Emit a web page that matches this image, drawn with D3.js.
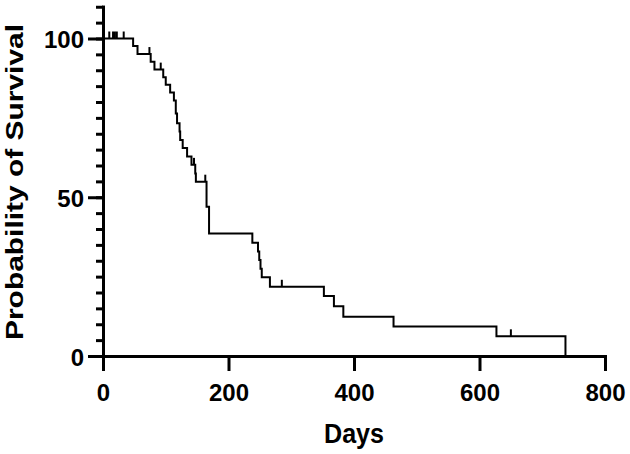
<!DOCTYPE html>
<html>
<head>
<meta charset="utf-8">
<script src="https://cdn.jsdelivr.net/npm/d3@7"></script>
<style>
  html, body { margin: 0; padding: 0; background: #fff; }
  svg { display: block; }
  text { font-family: "Liberation Sans", Arial, Helvetica, sans-serif; font-weight: bold; fill: #000; }
</style>
</head>
<body>
<svg id="chart" width="630" height="454"></svg>
<script>
// ---- Data ----
const eventDays     = [48, 55, 76, 82, 96, 100, 107, 113, 116, 118, 122, 123, 127, 134, 141, 147, 148, 165, 169, 238, 247, 249, 251, 253, 266, 352, 368, 383, 463, 627, 737];
const eventSurvival = [97.6, 95.1, 92.7, 90.2, 87.8, 85.4, 83.0, 80.5, 76.4, 73.3, 70.7, 68.0, 65.5, 62.8, 60.2, 57.5, 54.9, 47.0, 38.6, 35.7, 32.9, 30.2, 27.5, 24.8, 21.8, 18.9, 15.7, 12.4, 9.3, 6.2, 0];
const censorDays     = [10, 16, 19, 22, 33, 74, 92, 145, 163, 285, 650];
const censorSurvival = [100, 100, 100, 100, 100, 95.1, 90.2, 60.2, 54.9, 21.8, 6.2];
const xTicks = [0, 200, 400, 600, 800];
const yMajorTicks = [0, 50, 100];
const yMinorTicks = d3.range(0, 111, 5);
const xTitle = "Days";
const yTitle = "Probability of Survival";

const svg = d3.select("#chart");
const x = d3.scaleLinear().domain([0, 800]).range([103, 605]);
const y = d3.scaleLinear().domain([0, 110]).range([356, 356 - 110 * 3.175]);

// ---- Axes ----
const axisW = 3;
// y minor ticks
const yMinor = svg.append("g").attr("transform", `translate(${x(0)},0)`)
  .call(d3.axisLeft(y).tickValues(yMinorTicks).tickSize(7).tickSizeOuter(0).tickFormat(""));
// y major ticks + labels
const yMajor = svg.append("g").attr("transform", `translate(${x(0)},0)`)
  .call(d3.axisLeft(y).tickValues(yMajorTicks).tickSize(15).tickSizeOuter(0).tickPadding(4));
// x axis
const xAx = svg.append("g").attr("transform", `translate(0,${y(0)})`)
  .call(d3.axisBottom(x).tickValues(xTicks).tickSize(15).tickSizeOuter(0).tickPadding(13));

[yMinor, yMajor, xAx].forEach(g => {
  g.selectAll(".domain").attr("stroke", "#000").attr("stroke-width", axisW).attr("stroke-linecap", "square");
  g.selectAll(".tick line").attr("stroke", "#000").attr("stroke-width", axisW);
  g.selectAll(".tick text").attr("font-size", 24).attr("fill", "#000")
    .style("font-family", '"Liberation Sans", Arial, sans-serif').style("font-weight", "bold");
});
yMajor.selectAll(".tick text").attr("dy", "0.38em");

// ---- Survival curve ----
const pts = [[0, 100]].concat(eventDays.map((d, i) => [d, eventSurvival[i]]));
const line = d3.line().x(d => x(d[0])).y(d => y(d[1])).curve(d3.curveStepAfter);
svg.append("path").datum(pts)
  .attr("d", line)
  .attr("fill", "none")
  .attr("stroke", "#000")
  .attr("stroke-width", 2);

// censor marks
svg.append("g").selectAll("line").data(censorDays.map((d, i) => [d, censorSurvival[i]]))
  .join("line")
  .attr("x1", d => x(d[0])).attr("x2", d => x(d[0]))
  .attr("y1", d => y(d[1])).attr("y2", d => y(d[1]) - 7)
  .attr("stroke", "#000").attr("stroke-width", 2);

// ---- Titles ----
svg.append("text")
  .attr("x", (x(0) + x(800)) / 2).attr("y", 443)
  .attr("text-anchor", "middle")
  .attr("font-size", 27)
  .attr("textLength", 60).attr("lengthAdjust", "spacingAndGlyphs")
  .text(xTitle);

svg.append("text")
  .attr("transform", "rotate(-90)")
  .attr("x", -182).attr("y", 23)
  .attr("text-anchor", "middle")
  .attr("font-size", 24)
  .attr("textLength", 316).attr("lengthAdjust", "spacingAndGlyphs")
  .text(yTitle);
</script>
</body>
</html>
